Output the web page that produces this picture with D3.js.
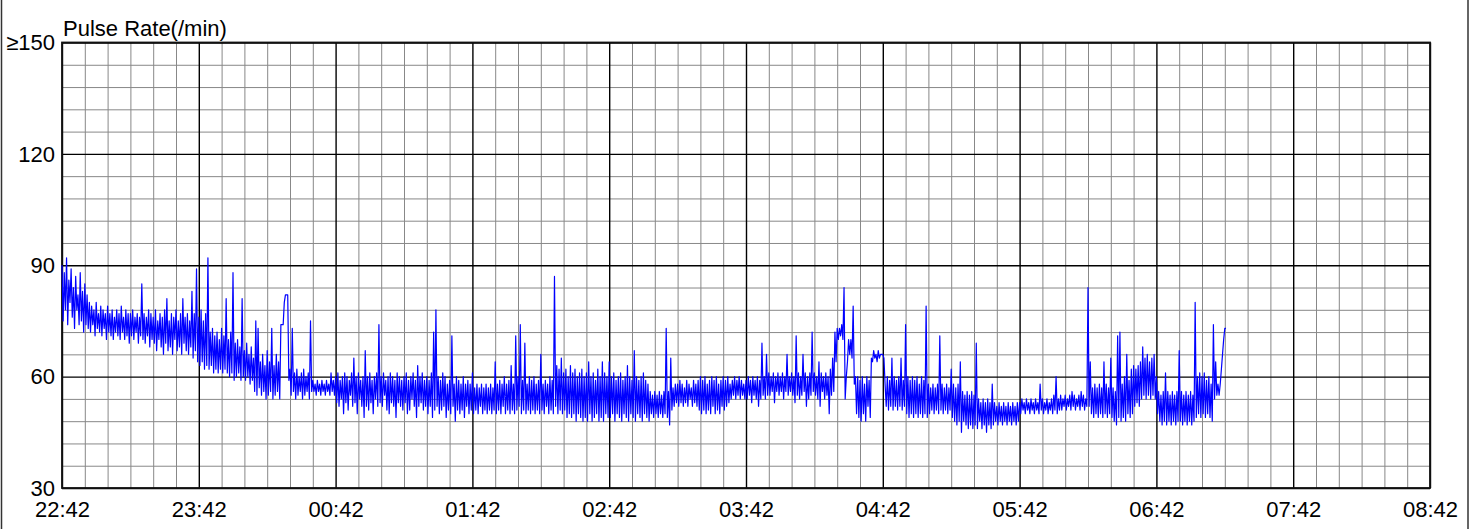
<!DOCTYPE html>
<html>
<head>
<meta charset="utf-8">
<script src="https://cdn.jsdelivr.net/npm/d3@7"></script>
<style>
  body { margin: 0; background: #fff; }
  svg text { font-family: "Liberation Sans", Arial, sans-serif; fill: #000; }
</style>
</head>
<body>
<svg id="chart" width="1481" height="529"></svg>
<script>
/*
  Pulse rate overnight trace
  Per minute: the high reading (at :00) and the low reading (at :30), starting 22:42
*/
var xLabels = ["22:42","23:42","00:42","01:42","02:42","03:42","04:42","05:42","06:42","07:42","08:42"];
var yTicks = [30, 60, 90, 120, 150];
var yLabels = ["30", "60", "90", "120", "\u2265150"];
var yTitle = "Pulse Rate(/min)";

//values, hour by hour
var hour0High = [90,88,92,86,89,84,87,82,88,83, 85,82,80,79,78,80,77,79,78,77, 79,77,78,76,78,77,79,76,78,77,
                 77,78,76,77,76,85,77,76,78,77, 76,78,75,77,76,78,81,75,77,76, 78,75,77,81,76,77,75,83,77,89];
var hour0Low  = [75,78,74,80,76,73,78,74,75,72, 74,73,72,74,71,73,72,71,73,70, 72,71,70,72,71,70,72,70,71,69,
                 71,70,72,69,71,70,69,71,68,70, 69,67,70,68,66,69,67,68,66,70, 67,68,66,69,67,66,68,65,67,64];
var hour1High = [76,78,75,77,92,72,73,71,72,70, 73,71,81,70,72,88,69,70,68,81, 67,69,66,68,65,75,73,64,66,63,
                 67,64,73,63,66,64,74,74,82,82, 62,73,61,62,60,61,62,60,61,75, 59,58,59,58,59,58,59,58,61,59];
var hour1Low  = [63,64,62,63,62,63,61,62,61,62, 61,62,61,60,61,59,60,61,59,60, 59,60,58,59,56,55,57,55,56,54,
                 55,56,54,55,56,54,74,80,82,59, 55,56,54,55,56,54,55,56,54,56, 56,55,56,55,56,55,56,55,56,55];
var hour2High = [60,61,59,60,61,60,59,61,65,60, 61,59,60,67,60,61,59,60,61,74, 60,61,59,60,61,60,59,61,60,59,
                 60,61,59,60,61,59,63,60,61,59, 60,59,61,72,78,60,59,61,60,58, 59,71,58,60,59,58,60,58,59,58];
var hour2Low  = [53,52,54,50,53,51,55,52,53,50, 54,52,49,52,51,53,50,54,52,53, 52,55,51,50,53,52,49,53,52,51,
                 53,50,51,54,52,49,52,53,51,52, 50,52,49,51,52,50,51,52,49,51, 50,52,48,51,50,51,49,52,50,51];
var hour3High = [61,57,58,57,58,57,58,57,58,57, 64,58,59,58,60,58,59,63,58,71, 60,74,59,69,58,60,59,60,58,59,
                 66,58,59,58,60,59,87,63,62,65, 61,62,60,63,61,62,60,61,62,60, 61,64,60,61,59,62,60,64,61,60];
var hour3Low  = [50,51,50,52,50,51,50,51,50,51, 50,51,50,52,50,51,50,51,50,51, 52,50,51,50,51,50,51,50,51,50,
                 51,50,52,50,51,50,52,50,51,50, 51,49,50,49,50,48,50,49,48,49, 48,50,48,49,50,48,49,48,50,49];
var hour4High = [64,60,61,59,60,61,59,60,63,60, 59,67,60,59,60,61,59,58,56,55, 56,55,56,55,56,73,56,65,57,58,
                 58,59,58,57,59,58,57,59,58,59, 60,59,60,58,59,60,59,60,58,59, 60,59,60,58,59,60,59,60,59,58];
var hour4Low  = [49,50,48,50,49,48,50,49,48,50, 49,48,50,49,48,50,49,48,50,49, 50,49,50,49,50,49,47,51,52,53,
                 52,53,52,53,52,54,52,53,52,51, 50,51,50,51,50,52,50,51,50,52, 51,52,53,54,55,54,55,54,55,54];
var hour5High = [59,60,59,60,59,60,59,69,60,66, 61,60,61,60,61,60,61,60,66,60, 61,60,71,61,60,66,61,60,61,72,
                 61,60,64,61,60,61,60,62,65,72, 73,73,74,84,60,70,70,79,60,60, 59,60,58,60,59,65,67,66,67,66];
var hour5Low  = [54,55,53,55,54,52,54,55,54,55, 55,56,53,56,55,56,54,56,55,56, 55,53,55,54,55,56,52,54,55,56,
                 55,54,52,56,54,55,50,55,56,64, 70,71,70,54,64,66,65,58,50,49, 48,50,48,52,49,64,65,64,65,66];
var hour6High = [66,58,60,59,65,60,59,60,65,59, 74,60,59,60,59,60,58,60,59,79, 58,57,58,57,58,71,58,57,58,57,
                 62,58,57,58,64,56,55,56,55,56, 55,69,54,53,54,53,54,53,58,53, 52,53,52,53,52,53,52,53,52,53];
var hour6Low  = [65,52,51,52,51,52,51,52,51,52, 50,49,50,49,50,49,50,49,50,49, 50,51,50,51,50,51,50,51,50,51,
                 49,48,47,48,45,48,47,46,47,46, 47,46,48,46,47,45,47,46,47,48, 47,48,47,48,47,48,47,48,47,48];
var hour7High = [53,54,53,54,53,54,53,54,53,58, 54,53,54,53,54,55,60,54,55,54, 55,54,55,56,55,54,55,56,55,54,
                 84,64,57,58,57,58,57,64,58,57, 65,57,56,71,72,58,60,66,59,62, 63,62,63,64,68,65,66,64,65,66];
var hour7Low  = [50,51,50,51,50,51,50,51,50,51, 50,51,50,51,50,51,50,51,51,52, 51,52,51,52,51,52,51,52,51,52,
                 52,50,49,50,49,50,49,50,49,50, 49,48,47,49,48,49,48,50,49,50, 52,53,52,54,55,54,55,54,55,54];
var hour8High = [60,56,55,56,61,56,55,56,55,56, 67,56,55,56,55,56,55,80,60,61, 60,61,59,60,58,74,64,58,58,66, 73];
var hour8Low  = [50,48,47,48,47,48,47,48,47,48, 48,47,48,47,48,47,48,49,50,49, 50,49,50,49,48,54,55,55,62,70, 73];

var highs = [].concat(hour0High, hour1High, hour2High, hour3High, hour4High, hour5High, hour6High, hour7High, hour8High);
var lows = [].concat(hour0Low, hour1Low, hour2Low, hour3Low, hour4Low, hour5Low, hour6Low, hour7Low, hour8Low);

//interleave high and low readings into one trace (minutes since 22:42)
var pulse = [];
for(var i = 0; i < highs.length; i++){
  pulse.push({t: i, v: highs[i]});
  pulse.push({t: i + 0.5, v: lows[i]});
}

var plotLeft = 62, plotRight = 1430, plotTop = 42.5, plotBottom = 488;
var FONT_SIZE = 22;

var svg = d3.select("#chart");

var x = d3.scaleLinear().domain([0, 600]).range([plotLeft, plotRight]);
var y = d3.scaleLinear().domain([30, 150]).range([plotBottom, plotTop]);

//frame lines on the sides
svg.append("line").attr("x1", 1.5).attr("x2", 1.5).attr("y1", 0).attr("y2", 529)
  .attr("stroke", "#333").attr("stroke-width", 1.5);
svg.append("line").attr("x1", 1468).attr("x2", 1468).attr("y1", 0).attr("y2", 529)
  .attr("stroke", "#333").attr("stroke-width", 1.5);

//minor grid: every 10 min, every 6 beats
var minorX = d3.range(0, 601, 10).filter(function(d){ return d % 60 != 0; });
var minorY = d3.range(30, 151, 6).filter(function(d){ return (d - 30) % 30 != 0; });

svg.append("g")
  .attr("transform", "translate(0," + plotBottom + ")")
  .call(d3.axisBottom(x).tickValues(minorX).tickSize(-(plotBottom - plotTop)).tickFormat(""))
  .call(function(g){ g.select(".domain").remove(); g.selectAll("line").attr("stroke", "#888").attr("stroke-width", 1); });

svg.append("g")
  .attr("transform", "translate(" + plotLeft + ",0)")
  .call(d3.axisLeft(y).tickValues(minorY).tickSize(-(plotRight - plotLeft)).tickFormat(""))
  .call(function(g){ g.select(".domain").remove(); g.selectAll("line").attr("stroke", "#888").attr("stroke-width", 1); });

//major grid with labels
svg.append("g")
  .attr("transform", "translate(0," + plotBottom + ")")
  .call(d3.axisBottom(x).tickValues(d3.range(0, 601, 60)).tickSize(-(plotBottom - plotTop)).tickPadding(0)
    .tickFormat(function(d, i){ return xLabels[i]; }))
  .call(function(g){
    g.select(".domain").remove();
    g.selectAll("line").attr("stroke", "#000").attr("stroke-width", 1.4);
    g.selectAll("text").attr("font-size", FONT_SIZE).attr("dy", null).attr("y", 29);
  });

svg.append("g")
  .attr("transform", "translate(" + plotLeft + ",0)")
  .call(d3.axisLeft(y).tickValues(yTicks).tickSize(-(plotRight - plotLeft)).tickPadding(0)
    .tickFormat(function(d, i){ return yLabels[i]; }))
  .call(function(g){
    g.select(".domain").remove();
    g.selectAll("line").attr("stroke", "#000").attr("stroke-width", 1.4);
    g.selectAll("text").attr("font-size", FONT_SIZE).attr("x", -7).attr("dy", "0.33em");
  });

//plot border
svg.append("rect")
  .attr("x", plotLeft).attr("y", plotTop)
  .attr("width", plotRight - plotLeft).attr("height", plotBottom - plotTop)
  .attr("fill", "none").attr("stroke", "#111").attr("stroke-width", 1.8);

svg.append("text")
  .attr("x", plotLeft + 1).attr("y", 36)
  .attr("font-size", FONT_SIZE)
  .text(yTitle);

//pulse trace
var line = d3.line()
  .x(function(d){ return x(d.t); })
  .y(function(d){ return y(d.v); });

svg.append("path")
  .datum(pulse)
  .attr("fill", "none")
  .attr("stroke", "#0000ff")
  .attr("stroke-width", 1.2)
  .attr("stroke-linejoin", "round")
  .attr("d", line);
</script>
</body>
</html>
